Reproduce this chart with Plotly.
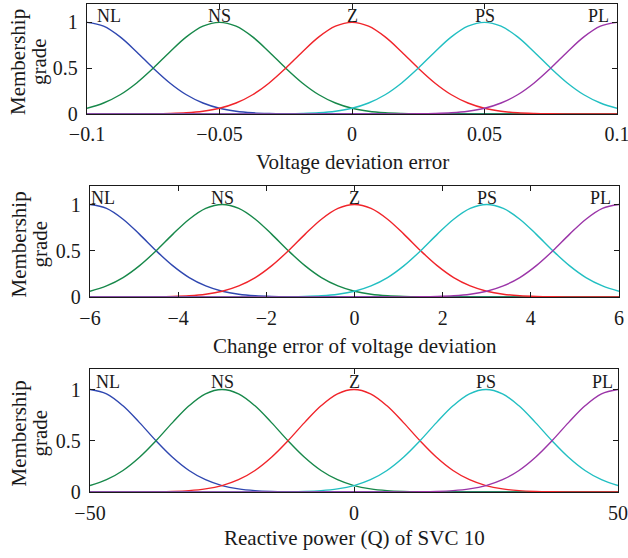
import plotly.graph_objects as go

# ---------------- data ----------------
set_names = ["NL", "NS", "Z", "PS", "PL"]
set_colors = ["#2f47b0", "#17884a", "#f0242a", "#22bfc2", "#9b35a8"]

# membership grades read at 33 evenly spaced points across each universe
grade_NL = [1.0, 0.958, 0.841, 0.677, 0.5, 0.339, 0.21, 0.12, 0.0625, 0.03, 0.0131, 0.0053, 0.002,
            0.0007, 0.0002, 0, 0, 0, 0, 0, 0, 0, 0, 0, 0, 0, 0, 0, 0, 0, 0, 0, 0]
grade_NS = [0.0625, 0.12, 0.21, 0.339, 0.5, 0.677, 0.841, 0.958, 1.0, 0.958, 0.841, 0.677, 0.5,
            0.339, 0.21, 0.12, 0.0625, 0.03, 0.0131, 0.0053, 0.002, 0.0007, 0.0002,
            0, 0, 0, 0, 0, 0, 0, 0, 0, 0]
grade_Z = [0, 0, 0.0002, 0.0007, 0.002, 0.0053, 0.0131, 0.03, 0.0625, 0.12, 0.21, 0.339, 0.5,
           0.677, 0.841, 0.958, 1.0, 0.958, 0.841, 0.677, 0.5, 0.339, 0.21, 0.12, 0.0625, 0.03,
           0.0131, 0.0053, 0.002, 0.0007, 0.0002, 0, 0]
grade_PS = [0, 0, 0, 0, 0, 0, 0, 0, 0, 0, 0.0002, 0.0007, 0.002, 0.0053, 0.0131, 0.03, 0.0625,
            0.12, 0.21, 0.339, 0.5, 0.677, 0.841, 0.958, 1.0, 0.958, 0.841, 0.677, 0.5, 0.339,
            0.21, 0.12, 0.0625]
grade_PL = [0, 0, 0, 0, 0, 0, 0, 0, 0, 0, 0, 0, 0, 0, 0, 0, 0, 0, 0.0002, 0.0007, 0.002, 0.0053,
            0.0131, 0.03, 0.0625, 0.12, 0.21, 0.339, 0.5, 0.677, 0.841, 0.958, 1.0]

x_voltage = [-0.1, -0.09375, -0.0875, -0.08125, -0.075, -0.06875, -0.0625, -0.05625, -0.05,
             -0.04375, -0.0375, -0.03125, -0.025, -0.01875, -0.0125, -0.00625, 0,
             0.00625, 0.0125, 0.01875, 0.025, 0.03125, 0.0375, 0.04375, 0.05,
             0.05625, 0.0625, 0.06875, 0.075, 0.08125, 0.0875, 0.09375, 0.1]
x_change = [-6, -5.625, -5.25, -4.875, -4.5, -4.125, -3.75, -3.375, -3,
            -2.625, -2.25, -1.875, -1.5, -1.125, -0.75, -0.375, 0,
            0.375, 0.75, 1.125, 1.5, 1.875, 2.25, 2.625, 3,
            3.375, 3.75, 4.125, 4.5, 4.875, 5.25, 5.625, 6]
x_reactive = [-50, -46.875, -43.75, -40.625, -37.5, -34.375, -31.25, -28.125, -25,
              -21.875, -18.75, -15.625, -12.5, -9.375, -6.25, -3.125, 0,
              3.125, 6.25, 9.375, 12.5, 15.625, 18.75, 21.875, 25,
              28.125, 31.25, 34.375, 37.5, 40.625, 43.75, 46.875, 50]

centers_voltage = [-0.1, -0.05, 0, 0.05, 0.1]
centers_change = [-6, -3, 0, 3, 6]
centers_reactive = [-50, -25, 0, 25, 50]

tickvals_voltage = [-0.1, -0.05, 0, 0.05, 0.1]
ticktext_voltage = ["\u22120.1", "\u22120.05", "0", "0.05", "0.1"]
tickvals_change = [-6, -4, -2, 0, 2, 4, 6]
ticktext_change = ["\u22126", "\u22124", "\u22122", "0", "2", "4", "6"]
tickvals_reactive = [-50, 0, 50]
ticktext_reactive = ["\u221250", "0", "50"]
y_tickvals = [0, 0.5, 1]
y_ticktext = ["0", "0.5", "1"]

x_titles = ["Voltage deviation error", "Change error of voltage deviation",
            "Reactive power (Q) of SVC 10"]

grades = [grade_NL, grade_NS, grade_Z, grade_PS, grade_PL]

# ---------------- figure ----------------
W, H = 628, 558
FONT = "Liberation Serif"
INK = "#1a1a1a"

panels = [
    dict(x=x_voltage, centers=centers_voltage, tv=tickvals_voltage, tt=ticktext_voltage,
         rng=[-0.1, 0.1], px=(87, 617), py=(4, 114), xt_y=162, shifts=(22, -19), lab_y=130),
    dict(x=x_change, centers=centers_change, tv=tickvals_change, tt=ticktext_change,
         rng=[-6, 6], px=(90, 619), py=(186, 297), xt_y=346, shifts=(13, -19), lab_y=314),
    dict(x=x_reactive, centers=centers_reactive, tv=tickvals_reactive, tt=ticktext_reactive,
         rng=[-50, 50], px=(90, 618), py=(369, 492), xt_y=538, shifts=(18, -16), lab_y=509),
]

fig = go.Figure()
annotations = []
layout = dict(width=W, height=H, margin=dict(l=0, r=0, t=0, b=0, autoexpand=False), autosize=False,
              paper_bgcolor="white", plot_bgcolor="white", showlegend=False,
              font=dict(family=FONT, size=20, color=INK))

for i, p in enumerate(panels):
    n = "" if i == 0 else str(i + 1)
    xa, ya = "x" + n, "y" + n
    for g, name, col in zip(grades, set_names, set_colors):
        fig.add_trace(go.Scatter(x=p["x"], y=g, mode="lines", name=name,
                                 line=dict(color=col, width=1.4, shape="spline", smoothing=1),
                                 xaxis=xa, yaxis=ya, hoverinfo="skip"))
    x0, x1 = p["px"][0] / W, p["px"][1] / W
    y0, y1 = 1 - p["py"][1] / H, 1 - p["py"][0] / H
    common = dict(showline=True, linecolor=INK, linewidth=1.3, mirror="allticks",
                  ticks="inside", ticklen=5, tickwidth=1, tickcolor=INK,
                  showgrid=False, zeroline=False, fixedrange=True, automargin=False,
                  ticklabeloverflow="allow",
                  tickfont=dict(family=FONT, size=20, color=INK))
    layout["xaxis" + n] = dict(domain=[x0, x1], range=p["rng"], anchor=ya,
                               tickmode="array", tickvals=p["tv"], ticktext=p["tt"],
                               ticklabelstandoff=max(0, p["lab_y"] - p["py"][1] - 14),
                               **common)
    layout["yaxis" + n] = dict(domain=[y0, y1], range=[0, 1.2], anchor=xa,
                               tickmode="array", tickvals=y_tickvals, ticktext=y_ticktext,
                               ticklabelstandoff=4, **common)
    # fuzzy set labels
    for k, (c, name) in enumerate(zip(p["centers"], set_names)):
        shift = 0
        if k == 0:
            shift = p["shifts"][0]
        elif k == 4:
            shift = p["shifts"][1]
        annotations.append(dict(x=c, y=1.07, xref=xa, yref=ya, text=name, showarrow=False,
                                xanchor="center", yanchor="middle", xshift=shift,
                                font=dict(family=FONT, size=18, color=INK)))
    # x axis title
    annotations.append(dict(x=(x0 + x1) / 2, y=1 - p["xt_y"] / H, xref="paper", yref="paper",
                            text=x_titles[i], showarrow=False, xanchor="center", yanchor="middle",
                            font=dict(family=FONT, size=21, color=INK)))
    # y axis title (two lines)
    yc = 1 - ((p["py"][0] + p["py"][1]) / 2 + 3) / H
    annotations.append(dict(x=18 / W, y=yc, xref="paper", yref="paper", text="Membership",
                            showarrow=False, textangle=-90, xanchor="center", yanchor="middle",
                            font=dict(family=FONT, size=21, color=INK)))
    annotations.append(dict(x=39 / W, y=yc, xref="paper", yref="paper", text="grade",
                            showarrow=False, textangle=-90, xanchor="center", yanchor="middle",
                            font=dict(family=FONT, size=21, color=INK)))

layout["annotations"] = annotations
fig.update_layout(**layout)
fig.write_html("out.html", config={"displayModeBar": False},
               post_script="document.body.style.margin='0';document.body.style.overflow='hidden';")
